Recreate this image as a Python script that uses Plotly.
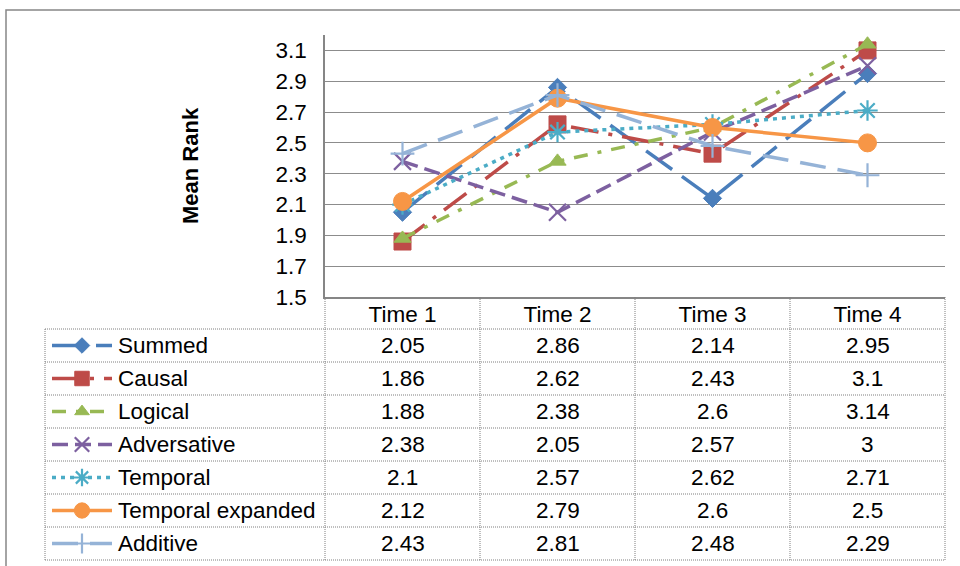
import plotly.graph_objects as go

categories = ["Time 1", "Time 2", "Time 3", "Time 4"]
series_names = ["Summed", "Causal", "Logical", "Adversative", "Temporal",
                "Temporal expanded", "Additive"]
summed = [2.05, 2.86, 2.14, 2.95]
causal = [1.86, 2.62, 2.43, 3.1]
logical = [1.88, 2.38, 2.6, 3.14]
adversative = [2.38, 2.05, 2.57, 3.0]
temporal = [2.1, 2.57, 2.62, 2.71]
temporal_expanded = [2.12, 2.79, 2.6, 2.5]
additive = [2.43, 2.81, 2.48, 2.29]
y_ticks = [1.5, 1.7, 1.9, 2.1, 2.3, 2.5, 2.7, 2.9, 3.1]

values = [summed, causal, logical, adversative, temporal, temporal_expanded, additive]

styles = [
    dict(color="#4A7EBB", dash="32px,12px", symbol="diamond", size=14, mline=1),
    dict(color="#BE4B48", dash="28px,10px,4px,10px", symbol="square", size=17, mline=1),
    dict(color="#98B954", dash="14px,10px,4px,10px", symbol="triangle-up", size=15, mline=1),
    dict(color="#7D60A0", dash="16px,7px", symbol="x-thin", size=17, mline=2.2),
    dict(color="#4BACC6", dash="4px,5px", symbol="asterisk", size=17, mline=2.2),
    dict(color="#F79646", dash="solid", symbol="circle", size=18, mline=1),
    dict(color="#95B3D7", dash="26px,12px", symbol="cross-thin", size=17, mline=2.2),
]

FONT = "Liberation Sans, Arial, sans-serif"
FS = 22.5
W, H = 960, 566

def px_x(p):
    return p / W

def px_y(p):
    return 1 - p / H

fig = go.Figure()

for name, vals, st in zip(series_names, values, styles):
    fig.add_trace(go.Scatter(
        x=categories, y=vals, name=name, mode="lines+markers",
        line=dict(color=st["color"], width=3.5, dash=st["dash"]),
        marker=dict(symbol=st["symbol"], size=st["size"], color=st["color"],
                    line=dict(color=st["color"], width=st["mline"])),
        showlegend=False, cliponaxis=False,
    ))

col_edges = [45, 325, 480, 635, 790, 945]
row_edges = [297, 329, 362, 395, 428, 461, 494, 527, 560]

for i, (name, st) in enumerate(zip(series_names, styles)):
    yc = (row_edges[i + 1] + row_edges[i + 2]) / 2
    fig.add_trace(go.Scatter(
        x=[52, 112], y=[yc, yc], mode="lines", xaxis="x2", yaxis="y2",
        line=dict(color=st["color"], width=3.5, dash=st["dash"]),
        showlegend=False, hoverinfo="skip", cliponaxis=False,
    ))
    fig.add_trace(go.Scatter(
        x=[82], y=[yc], mode="markers", xaxis="x2", yaxis="y2",
        marker=dict(symbol=st["symbol"], size=st["size"] * 0.85, color=st["color"],
                    line=dict(color=st["color"], width=st["mline"])),
        showlegend=False, hoverinfo="skip", cliponaxis=False,
    ))

annotations = []
for i, (name, vals) in enumerate(zip(series_names, values)):
    yc = (row_edges[i + 1] + row_edges[i + 2]) / 2
    annotations.append(dict(x=116, y=yc, xref="x2", yref="y2", text=name,
                            showarrow=False, xanchor="left", yanchor="middle",
                            font=dict(family=FONT, size=FS, color="black")))
    for c, v in zip(categories, vals):
        annotations.append(dict(x=c, y=yc, xref="x", yref="y2", text=f"{v:g}",
                                showarrow=False, xanchor="center", yanchor="middle",
                                font=dict(family=FONT, size=FS, color="black")))

annotations.append(dict(x=190, y=166, xref="x2", yref="y2", text="<b>Mean Rank</b>",
                        textangle=-90, showarrow=False, xanchor="center", yanchor="middle",
                        font=dict(family=FONT, size=22, color="black")))

shapes = []
dotc = "#7F7F7F"
for y in row_edges[1:]:
    shapes.append(dict(type="line", xref="x2", yref="y2", x0=col_edges[0], x1=col_edges[-1],
                       y0=y, y1=y, line=dict(color=dotc, width=1, dash="1px,1px")))
shapes.append(dict(type="line", xref="x2", yref="y2", x0=col_edges[0], x1=col_edges[0],
                   y0=row_edges[1], y1=row_edges[-1], line=dict(color=dotc, width=1, dash="1px,1px")))
for x in col_edges[1:]:
    shapes.append(dict(type="line", xref="x2", yref="y2", x0=x, x1=x,
                       y0=row_edges[0], y1=row_edges[-1], line=dict(color=dotc, width=1, dash="1px,1px")))
shapes.append(dict(type="rect", xref="paper", yref="paper", x0=px_x(6), x1=px_x(1000),
                   y0=px_y(600), y1=px_y(10), line=dict(color="#868686", width=1.5),
                   fillcolor="rgba(0,0,0,0)"))

fig.update_layout(
    width=W, height=H,
    margin=dict(l=0, r=0, t=0, b=0, pad=0),
    paper_bgcolor="white", plot_bgcolor="rgba(0,0,0,0)",
    font=dict(family=FONT, size=FS, color="black"),
    xaxis=dict(domain=[px_x(325), px_x(945)], type="category", range=[-0.5, 3.5],
               showline=True, linecolor="#868686", linewidth=1.5, showgrid=False,
               ticks="", ticklabelstandoff=-4, automargin=False,
               tickfont=dict(family=FONT, size=FS, color="black"), fixedrange=True),
    yaxis=dict(domain=[px_y(297), px_y(35)], range=[1.5, 3.2], tickmode="array",
               tickvals=y_ticks, ticktext=[f"{t:.1f}" for t in y_ticks],
               showgrid=True, gridcolor="#8C8C8C", gridwidth=1.3,
               showline=True, linecolor="#868686", linewidth=1.5, zeroline=False,
               ticks="", ticklabelstandoff=12, automargin=False,
               tickfont=dict(family=FONT, size=FS, color="black"), fixedrange=True),
    xaxis2=dict(domain=[0, 1], range=[0, W], visible=False, anchor="y2",
                automargin=False, fixedrange=True),
    yaxis2=dict(domain=[0, 1], range=[H, 0], visible=False, anchor="x2",
                automargin=False, fixedrange=True),
    annotations=annotations,
    shapes=shapes,
)

fig.write_html("out.html", config={"displayModeBar": False},
               post_script="document.body.style.margin='0';document.body.style.overflow='hidden';")
